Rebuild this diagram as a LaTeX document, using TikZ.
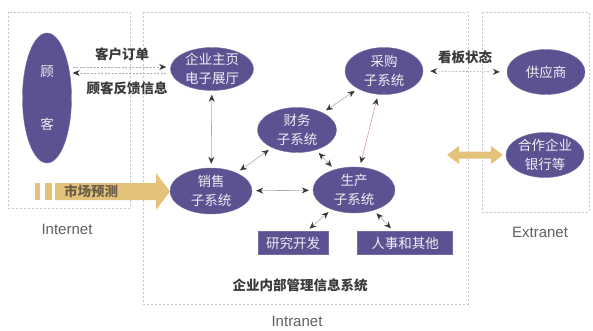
\documentclass[tikz,border=0pt]{standalone}
\usepackage{fontspec}
\setmainfont{Liberation Sans}
\newfontfamily\cjk{Noto Sans CJK SC}
\usetikzlibrary{arrows.meta,shapes.geometric}
\definecolor{ellc}{HTML}{5B5391}
\definecolor{yel}{HTML}{E4C27A}
\definecolor{lbl}{HTML}{3A3A3A}
\definecolor{mkt}{HTML}{6A5E48}
\definecolor{pinkl}{HTML}{D8A0AC}
\begin{document}
\begin{tikzpicture}[x=1pt,y=-1pt,
  box/.style={draw=gray!45, dash pattern=on 2pt off 2pt, line width=0.6pt},
  ell/.style={ellipse, fill=ellc, draw=ellc!85!white, line width=0.4pt, inner sep=0pt},
  etxt/.style={text=white!90!ellc, font=\cjk\fontsize{13.5}{19}\selectfont, align=center},
  rbox/.style={rectangle, fill=ellc, draw=ellc!85!white, inner sep=0pt, text=white!90!ellc, font=\cjk\fontsize{13.5}{15}\selectfont},
  lab/.style={text=lbl, font=\cjk\bfseries\fontsize{13.5}{15}\selectfont},
  net/.style={text=gray!75!black, font=\fontsize{15}{18}\selectfont},
  arr/.style={draw=gray!65, line width=0.6pt, shorten >=4pt, shorten <=4pt},
  con/.style={arr, {Stealth[length=7pt,width=6pt,color=gray!45!black]}-{Stealth[length=7pt,width=6pt,color=gray!45!black]}},
  rcon/.style={arr, -{Stealth[length=7pt,width=6pt,color=gray!45!black]}},
  dashy/.style={dash pattern=on 2pt off 1.5pt}
]
\useasboundingbox (0,0) rectangle (593,331);
% region boxes
\draw[box] (8,12) rectangle (130,208);
\draw[box] (143,12) rectangle (468,304);
\draw[box] (482,12) rectangle (589,212);
\node[net] (inet) at (67,229) {Internet};
\node[net] (intra) at (297,321) {Intranet};
\node[net] (extra) at (540,232) {Extranet};
\node[lab] (sys) at (300,285) {企业内部管理信息系统};

% ellipses
\node[ell, minimum width=49pt, minimum height=130pt] (gk) at (47,98) {};
\node[etxt] (gk1) at (47,72) {顾};
\node[etxt] (gk2) at (47,124) {客};
\node[ell, minimum width=83pt, minimum height=43pt, label={[etxt]center:企业主页\\电子展厅}] (zy) at (212,69) {};
\node[ell, minimum width=78pt, minimum height=47pt, label={[etxt]center:采购\\子系统}] (cg) at (384,71) {};
\node[ell, minimum width=78pt, minimum height=45pt, label={[etxt]center:供应商}] (gys) at (546,72) {};
\node[ell, minimum width=78pt, minimum height=45pt, label={[etxt]center:合作企业\\银行等}] (hz) at (545,155) {};
\node[ell, minimum width=79pt, minimum height=45pt, label={[etxt]center:财务\\子系统}] (cw) at (297,130) {};
\node[ell, minimum width=82pt, minimum height=46pt, label={[etxt]center:销售\\子系统}] (xs) at (211,191) {};
\node[ell, minimum width=82pt, minimum height=46pt, label={[etxt]center:生产\\子系统}] (sc) at (354,190) {};
\node[rbox, minimum width=70pt, minimum height=23pt] (yf) at (293,243) {研究开发};
\node[rbox, minimum width=95pt, minimum height=23pt] (rs) at (405,243) {人事和其他};

% customer arrows
\draw[rcon, dashy, shorten <=1pt] ([yshift=2pt]gk.east |- zy.west) -- ([yshift=2pt]zy.west);
\draw[rcon, dashy, shorten >=1pt] ([yshift=-4pt]zy.west) -- ([yshift=-4pt]gk.east |- zy.west);
\node[lab] (l1) at (122,54) {客户订单};
\node[lab] (l2) at (127,88) {顾客反馈信息};

% kanban
\draw[con, dashy, shorten >=7pt, shorten <=7pt] (cg.east) -- (gys.west);
\node[lab] (l3) at (465,57) {看板状态};

% intranet connections
\draw[con] (zy) -- (xs);
\draw[con] (xs) -- (cw);
\draw[con] (xs) -- (sc);
\draw[con] (cw) -- (cg);
\draw[con] (cw) -- (sc);
\draw[con, draw=pinkl] (cg) -- (sc);
\draw[con] (sc) -- (yf);
\draw[con] (sc) -- (rs);

% yellow double arrow to partners
\coordinate (ya) at (447,155);
\fill[yel] (ya) -- (459,146) -- (459,151.5) -- (491,151.5) -- (491,146) -- (503,155) -- (491,164) -- (491,158.5) -- (459,158.5) -- (459,164) -- cycle;

% market forecast arrow
\fill[yel] (35,183) rectangle (40,200);
\fill[yel] (45,183) rectangle (52,200);
\fill[yel] (55,183) -- (156,183) -- (156,173) -- (170,191.5) -- (156,210) -- (156,200) -- (55,200) -- cycle;
\node[lab, text=mkt] (mk) at (91,191) {市场预测};
\end{tikzpicture}
\end{document}
